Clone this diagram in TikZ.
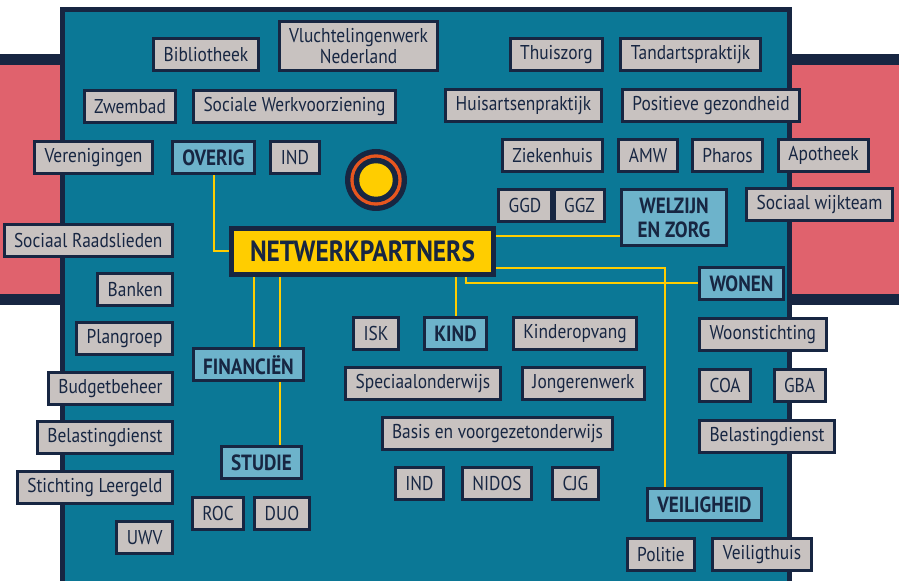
\documentclass[tikz,border=0pt]{standalone}
\usepackage{fontspec}
\setmainfont{PT Sans}[FakeStretch=0.87]
\usetikzlibrary{backgrounds}
\definecolor{navy}{HTML}{172642}
\definecolor{panelteal}{HTML}{0B7896}
\definecolor{sidepink}{HTML}{E0626D}
\definecolor{boxgrey}{HTML}{C8C2C0}
\definecolor{groupblue}{HTML}{6DB3CB}
\definecolor{hubyellow}{HTML}{FFCD00}
\definecolor{ringorange}{HTML}{E8561F}

\begin{document}
\begin{tikzpicture}[x=0.5pt,y=-0.5pt,
	partner/.style={draw=navy,line width=1.5pt,fill=boxgrey,text=navy,inner xsep=5pt,inner ysep=0pt,minimum height=16pt,font=\fontsize{10}{9}\selectfont,align=center},
	group/.style={partner,fill=groupblue,font=\bfseries\fontsize{11}{12}\selectfont},
	hub/.style={draw=navy,line width=2.5pt,fill=hubyellow,text=navy,minimum width=131pt,minimum height=23pt,font=\bfseries\fontsize{14.6}{15}\selectfont},
	link/.style={draw=hubyellow,line width=1pt}]
			\useasboundingbox (0,0) rectangle (899,581);
			\begin{scope}[on background layer]
			\fill[navy] (0,54) rectangle (899,305);
			\fill[sidepink] (0,65) rectangle (899,294);
			\fill[navy] (60,7) rectangle (792,581);
			\fill[panelteal] (65,12) rectangle (787,581);
			\fill[navy] (376,180) circle[radius=15.5pt];
			\fill[ringorange] (376,180) circle[radius=12.85pt];
			\fill[navy] (376,180) circle[radius=11.15pt];
			\fill[hubyellow] (376,180) circle[radius=8.35pt];
			\end{scope}
			\node[partner] (bibliotheek) at (206,55) {Bibliotheek};
			\node[partner,minimum height=24.5pt] (vluchtelingenwerk) at (358.5,46) {Vluchtelingenwerk\\Nederland};
			\node[partner] (thuiszorg) at (556.5,55) {Thuiszorg};
			\node[partner] (tandarts) at (690.5,55) {Tandartspraktijk};
			\node[partner] (zwembad) at (130,106.5) {Zwembad};
			\node[partner] (sw) at (294.5,106.5) {Sociale Werkvoorziening};
			\node[partner] (huisarts) at (523.5,106) {Huisartsenpraktijk};
			\node[partner] (positief) at (711,106) {Positieve gezondheid};
			\node[partner] (verenigingen) at (93.5,157.5) {Verenigingen};
			\node[group] (overig) at (213.5,157.5) {OVERIG};
			\node[partner] (indtop) at (295,157.5) {IND};
			\node[partner] (ziekenhuis) at (552.5,155.5) {Ziekenhuis};
			\node[partner] (amw) at (648,155.5) {AMW};
			\node[partner] (pharos) at (727.5,155.5) {Pharos};
			\node[partner] (apotheek) at (823.5,155.5) {Apotheek};
			\node[partner,minimum width=21pt] (ggd) at (525,205.5) {GGD};
			\node[partner,minimum width=21pt] (ggz) at (579.5,205.5) {GGZ};
			\node[group,minimum height=28pt,minimum width=52.5pt] (welzijn) at (674,217.5) {WELZIJN\\EN ZORG};
			\node[partner] (wijkteam) at (819.5,205) {Sociaal wijkteam};
			\node[partner,anchor=east] (raadslieden) at (174,240.5) {Sociaal Raadslieden};
			\node[hub] (netwerk) at (362.5,251.5) {NETWERKPARTNERS};
			\node[partner,anchor=east] (banken) at (174,289.5) {Banken};
			\node[group,anchor=west] (wonen) at (698,283.5) {WONEN};
			\node[partner,anchor=east] (plangroep) at (174,339) {Plangroep};
			\node[partner] (isk) at (376,333.5) {ISK};
			\node[group] (kind) at (455.5,333.5) {KIND};
			\node[partner] (kinderopvang) at (575,333.5) {Kinderopvang};
			\node[partner,anchor=west] (woonstichting) at (698,334.5) {Woonstichting};
			\node[group] (financien) at (248.5,365) {FINANCIËN};
			\node[partner] (speciaal) at (423,384) {Speciaalonderwijs};
			\node[partner] (jongeren) at (583.5,384) {Jongerenwerk};
			\node[partner,anchor=east] (budget) at (174,389) {Budgetbeheer};
			\node[partner,anchor=west] (coa) at (698,386) {COA};
			\node[partner] (gba) at (799.5,386) {GBA};
			\node[partner] (basis) at (497.5,434) {Basis en voorgezetonderwijs};
			\node[partner,anchor=east] (belastingl) at (174,438) {Belastingdienst};
			\node[partner,anchor=west] (belastingr) at (698,437) {Belastingdienst};
			\node[group] (studie) at (261.5,463) {STUDIE};
			\node[partner] (indbottom) at (419.5,483.5) {IND};
			\node[partner] (nidos) at (497,483.5) {NIDOS};
			\node[partner] (cjg) at (575.5,483.5) {CJG};
			\node[partner,anchor=east] (leergeld) at (174,488) {Stichting Leergeld};
			\node[group] (veiligheid) at (704.5,505) {VEILIGHEID};
			\node[partner] (roc) at (218,513.5) {ROC};
			\node[partner] (duo) at (282,513.5) {DUO};
			\node[partner,anchor=east] (uwv) at (174,537.5) {UWV};
			\node[partner] (politie) at (661,555) {Politie};
			\node[partner] (veiligthuis) at (762,555) {Veiligthuis};
			\begin{scope}[on background layer]
			\draw[link] (overig.south) |- (netwerk.west);
			\draw[link] ([yshift=-9.25pt]welzijn.west) -- ([yshift=-9.25pt]welzijn.west -| netwerk.east);
			\draw[link] ([yshift=4.5pt]netwerk.south east) -| ([xshift=-19.75pt]veiligheid.north);
			\draw[link] ([xshift=-15pt]netwerk.south east) |- (wonen.west);
			\draw[link] (kind.north) -- (kind.north |- netwerk.south);
			\draw[link] ([xshift=2.75pt]financien.north) -- ([xshift=2.75pt]financien.north |- netwerk.south);
			\draw[link] ([xshift=9.25pt]studie.north) -- ([xshift=9.25pt]studie.north |- netwerk.south);
			\end{scope}
		\end{tikzpicture}
\end{document}
